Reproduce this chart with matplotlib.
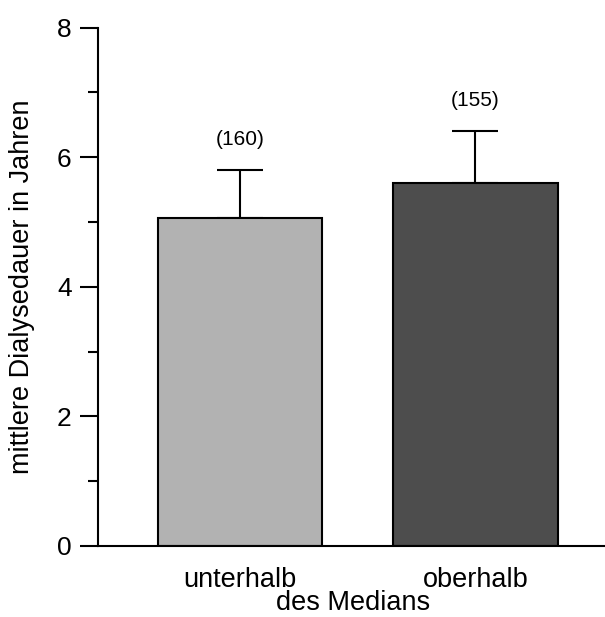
import matplotlib
matplotlib.use("Agg")
import matplotlib.pyplot as plt
from matplotlib.ticker import MultipleLocator

plt.rcParams['font.family'] = ['Liberation Sans', 'DejaVu Sans']

# Daten aus dem Bild
gruppen = ['unterhalb', 'oberhalb']
mittelwerte = [5.06, 5.60]
fehler_oben = [0.74, 0.80]
fallzahlen = ['(160)', '(155)']
farben = ['#b2b2b2', '#4d4d4d']

fig = plt.figure(figsize=(6.05, 6.17), dpi=100)
ax = fig.add_axes([0.162, 0.1151, 0.836, 0.8403])

pos = list(range(len(gruppen)))
ax.bar(pos, mittelwerte, width=0.70, color=farben, edgecolor='black', linewidth=1.5, zorder=2)
ax.errorbar(pos, mittelwerte, yerr=[[0] * len(pos), fehler_oben], fmt='none',
            ecolor='black', elinewidth=1.5, capsize=16.5, capthick=1.5, zorder=1)

for x, m, e, n in zip(pos, mittelwerte, fehler_oben, fallzahlen):
    ax.text(x, m + e + 0.47, n, ha='center', va='center', fontsize=15)

ax.set_xlim(-0.603, 1.546)
ax.set_ylim(0, 8)
ax.yaxis.set_major_locator(MultipleLocator(2))
ax.yaxis.set_minor_locator(MultipleLocator(1))
ax.set_xticks(pos)
ax.set_xticklabels(gruppen)

ax.spines['top'].set_visible(False)
ax.spines['right'].set_visible(False)
for s in ['left', 'bottom']:
    ax.spines[s].set_linewidth(1.5)

ax.tick_params(axis='y', which='major', length=13, width=1.5, labelsize=19, pad=6)
ax.tick_params(axis='y', which='minor', length=7, width=1.5)
ax.tick_params(axis='x', length=0, labelsize=19.5, pad=15)

ax.set_ylabel('mittlere Dialysedauer in Jahren', fontsize=19.5, labelpad=16)
ax.text(0.504, -0.110, 'des Medians', transform=ax.transAxes, ha='center', va='center', fontsize=19.5)

fig.savefig('out.png', dpi=100)
